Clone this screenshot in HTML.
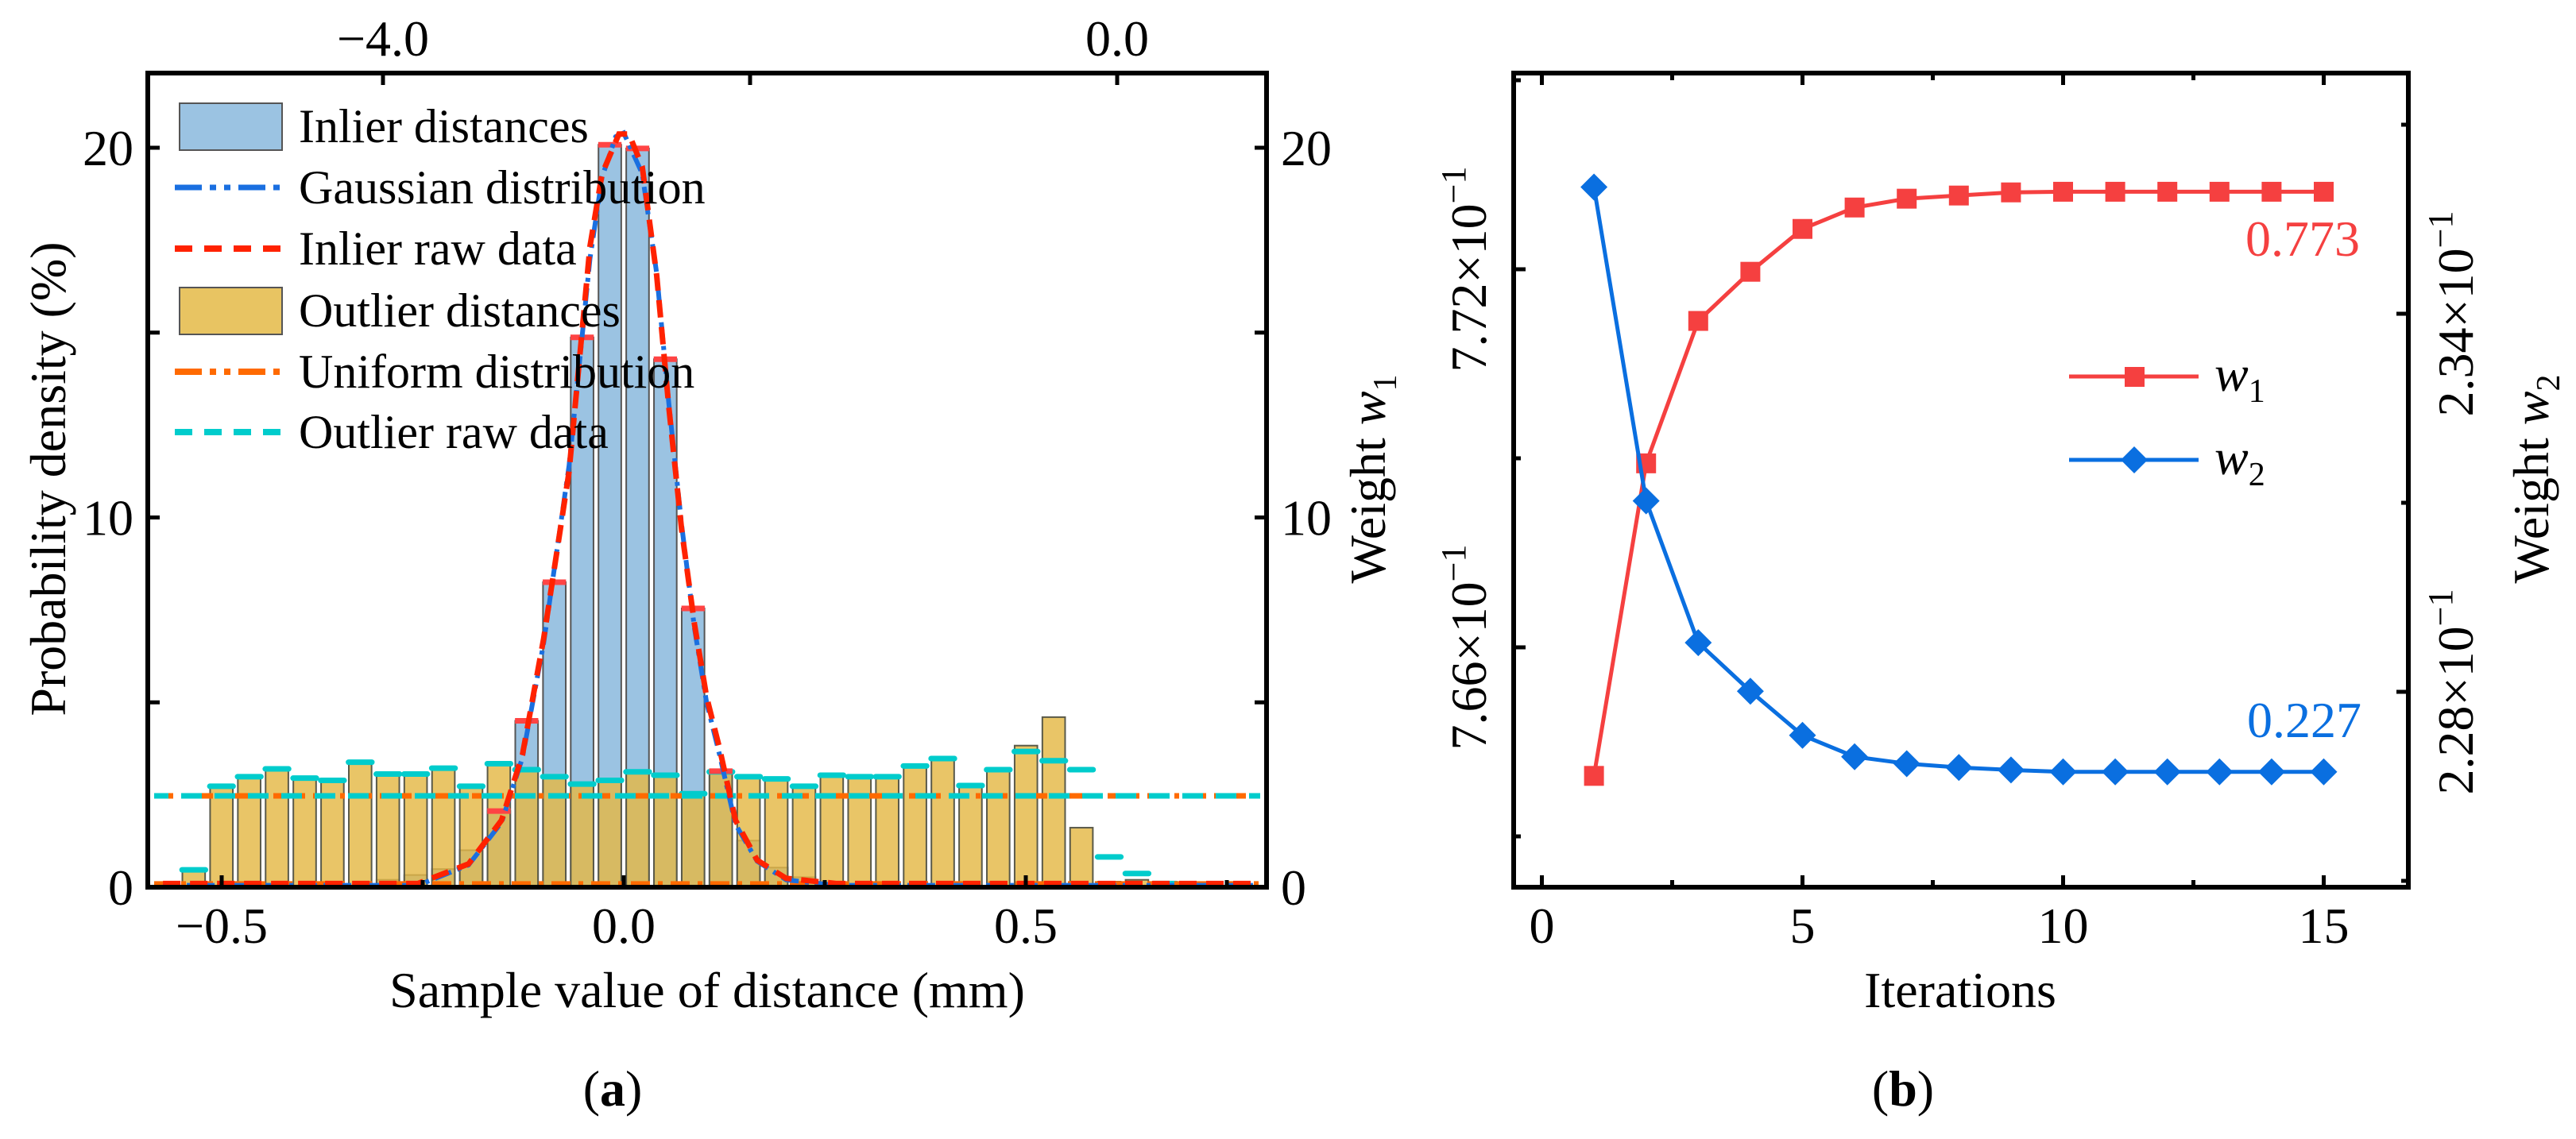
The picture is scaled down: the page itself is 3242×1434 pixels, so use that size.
<!DOCTYPE html>
<html><head><meta charset="utf-8">
<style>
html,body{margin:0;padding:0;background:#fff;}
svg{display:block;font-family:"Liberation Serif","DejaVu Serif",serif;}
</style></head>
<body>
<svg id="fig" width="3242" height="1434" viewBox="0 0 3242 1434" xmlns="http://www.w3.org/2000/svg">
<g id="pa"></g>
<g id="pb"></g>
</svg>
<script>
// ---------- Panel (a) data ----------
const binWidth = 0.0345;
const outlierBins = [-16,-15,-14,-13,-12,-11,-10,-9,-8,-7,-6,-5,-4,-3,-2,-1,0,1,2,3,4,5,6,7,8,9,10,11,12,13,14,15,16,17,18];
const outlierVals = [0.47,2.73,2.99,3.2,2.95,2.89,3.38,3.06,3.06,3.22,2.73,3.34,3.18,2.99,2.79,2.89,3.12,3.03,2.53,3.12,2.99,2.93,2.73,3.03,2.99,2.99,3.28,3.48,2.75,3.18,3.83,4.6,1.61,0.15,0.2];
const outlierRawBins = [-16,-15,-14,-13,-12,-11,-10,-9,-8,-7,-6,-5,-4,-3,-2,-1,0,1,2,3,4,5,6,7,8,9,10,11,12,13,14,15,16,17,18,19];
const outlierRawVals = [0.47,2.73,2.99,3.2,2.95,2.89,3.38,3.06,3.06,3.22,2.73,3.34,3.18,2.99,2.79,2.89,3.12,3.03,2.53,3.12,2.99,2.93,2.73,3.03,2.99,2.99,3.28,3.48,2.75,3.18,3.67,3.42,3.18,0.82,0.37,0.1];
const inlierBins = [-9,-8,-7,-6,-5,-4,-3,-2,-1,0,1,2,3,4,5,6];
const inlierVals = [0.2,0.33,0.49,1.0,2.06,4.5,8.25,14.87,20.08,19.98,14.28,7.54,3.14,1.26,0.53,0.27];
const rawX = [-0.573,-0.256,-0.193,-0.152,-0.126,-0.0996,-0.068,-0.042,-0.027,-0.006,0.0065,0.023,0.041,0.056,0.072,0.088,0.103,0.119,0.139,0.166,0.202,0.264,0.785];
const rawY = [0.1,0.1,0.63,1.81,3.58,6.72,11.24,17.33,19.29,20.37,20.37,19.49,16.54,13.0,9.67,7.11,5.15,3.77,1.81,0.73,0.24,0.1,0.1];
const gaussX = [-0.573,-0.256,-0.193,-0.152,-0.126,-0.0996,-0.068,-0.042,-0.027,-0.010,0.000,0.023,0.041,0.056,0.072,0.088,0.103,0.119,0.139,0.166,0.202,0.264,0.785];
const gaussY = [0.05,0.05,0.6,1.75,3.5,6.6,11.4,17.0,19.2,20.3,20.4,19.3,16.6,13.1,9.8,7.0,5.0,3.6,1.7,0.7,0.2,0.05,0.05];
const uniformLevel = 2.47;
const xTicksA = [-0.5,0.0,0.5];
const xTickLabelsA = ["−0.5","0.0","0.5"];
const yTicksA = [0,10,20];
const topTicks = [-4.0,0.0];
const topTickLabels = ["−4.0","0.0"];

// ---------- Panel (b) data ----------
const iterations = [1,2,3,4,5,6,7,8,9,10,11,12,13,14,15];
const w1 = [0.76396,0.76892,0.77118,0.77196,0.77264,0.77298,0.77312,0.77317,0.77322,0.77323,0.77323,0.77323,0.77323,0.77323,0.77323];
const w2 = [0.23601,0.23103,0.22878,0.22801,0.22731,0.22697,0.22686,0.22680,0.22676,0.22673,0.22673,0.22673,0.22673,0.22673,0.22673];
const xTicksB = [0,5,10,15];
const w1Ticks = [0.766,0.772];
const w1TickLabels = ["7.66","7.72"];
const w2Ticks = [0.228,0.234];
const w2TickLabels = ["2.28","2.34"];

const NS = "http://www.w3.org/2000/svg";
function mk(parent, tag, attrs, text){
  const e = document.createElementNS(NS, tag);
  for (const k in attrs) e.setAttribute(k, attrs[k]);
  if (text !== undefined) e.textContent = text;
  parent.appendChild(e);
  return e;
}

// ===== Panel A =====
const pa = document.getElementById('pa');
const AL=186, AR=1594, AT=92, AB=1117;
const ax = v => 785 + v*1012;
const ay = v => 1117 - v*46.55;
const atop = v => 1406 + v*231;

const gIn = mk(pa,'g',{});


inlierBins.forEach((k,i)=>{
  const c = (k+0.5)*binWidth;
  const x0 = ax(c-binWidth*0.41), x1 = ax(c+binWidth*0.41);
  const r = mk(gIn,'rect',{x:x0,y:ay(inlierVals[i]),width:x1-x0,height:ay(0)-ay(inlierVals[i]),fill:'#9bc3e2',stroke:'#555',"stroke-width":2});
  
  
});
const gOut = mk(pa,'g',{});


outlierBins.forEach((k,i)=>{
  const c = (k+0.5)*binWidth;
  const x0 = ax(c-binWidth*0.41), x1 = ax(c+binWidth*0.41);
  const r = mk(gOut,'rect',{x:x0,y:ay(outlierVals[i]),width:x1-x0,height:ay(0)-ay(outlierVals[i]),fill:'rgba(228,184,70,0.82)',stroke:'#5a5a4a',"stroke-width":2});
  
  
});
outlierRawBins.forEach((k,i)=>{
  const c = (k+0.5)*binWidth;
  const l = mk(pa,'line',{x1:ax(c-binWidth*0.42),x2:ax(c+binWidth*0.42),y1:ay(outlierRawVals[i]),y2:ay(outlierRawVals[i]),stroke:'#00cccc',"stroke-width":7,"stroke-linecap":"round"});
  
  
});
inlierBins.forEach((k,i)=>{
  if (inlierVals[i] < 2) return;
  const c = (k+0.5)*binWidth;
  const l = mk(pa,'line',{x1:ax(c-binWidth*0.42),x2:ax(c+binWidth*0.42),y1:ay(inlierVals[i]),y2:ay(inlierVals[i]),stroke:'#f44',"stroke-width":7});
  
  
});
const uni = mk(pa,'line',{x1:AL+8,x2:AR-8,y1:ay(uniformLevel),y2:ay(uniformLevel),stroke:'#ff6a00',"stroke-width":7,"stroke-dasharray":"24 10 6 10"});


const cy = mk(pa,'line',{x1:AL+8,x2:AR-8,y1:ay(uniformLevel),y2:ay(uniformLevel),stroke:'#00cccc',"stroke-width":7,"stroke-dasharray":"26 16","stroke-dashoffset":"8"});


const base = mk(pa,'line',{x1:AL+8,x2:AR-8,y1:ay(0.1),y2:ay(0.1),stroke:'#ff6a00',"stroke-width":6,"stroke-dasharray":"24 10 6 10"});


let d='';
gaussX.forEach((v,i)=>{ d += (i?'L':'M')+ax(v)+' '+ay(gaussY[i]); });
const gl = mk(pa,'path',{d:d,fill:'none',stroke:'#1a6fe0',"stroke-width":6,"stroke-dasharray":"22 8 5 8"});


d='';
rawX.forEach((v,i)=>{ d += (i?'L':'M')+ax(v)+' '+ay(rawY[i]); });
const rl = mk(pa,'path',{d:d,fill:'none',stroke:'#f20',"stroke-width":7,"stroke-dasharray":"22 12"});



const fa = mk(pa,'rect',{x:AL,y:AT,width:AR-AL,height:AB-AT,fill:'none',stroke:'#000',"stroke-width":6});


[-0.5,-0.25,0,0.25,0.5,0.75].forEach(v=>{
  const major = xTicksA.includes(v);
  mk(pa,'line',{x1:ax(v),x2:ax(v),y1:AB,y2:AB-(major?15:9),stroke:'#000',"stroke-width":5});
});
xTicksA.forEach((v,i)=>{
  const t = mk(pa,'text',{x:ax(v),y:1187,"font-size":64,"text-anchor":"middle"},xTickLabelsA[i]);
  
  
});
[-4,-2,0].forEach(v=>{ mk(pa,'line',{x1:atop(v),x2:atop(v),y1:AT,y2:AT+15,stroke:'#000',"stroke-width":5}); });
topTicks.forEach((v,i)=>{
  const t = mk(pa,'text',{x:atop(v),y:70,"font-size":64,"text-anchor":"middle"},topTickLabels[i]);
  
  
});
[0,5,10,15,20].forEach(v=>{
  mk(pa,'line',{x1:AL,x2:AL+15,y1:ay(v),y2:ay(v),stroke:'#000',"stroke-width":5});
  mk(pa,'line',{x1:AR,x2:AR-15,y1:ay(v),y2:ay(v),stroke:'#000',"stroke-width":5});
});
yTicksA.forEach(v=>{
  const t = mk(pa,'text',{x:168,y:ay(v)+22,"font-size":64,"text-anchor":"end"},String(v));
  
  
  const t2 = mk(pa,'text',{x:1612,y:ay(v)+22,"font-size":64,"text-anchor":"start"},String(v));
  
  
});
let t = mk(pa,'text',{x:0,y:0,"font-size":64,"text-anchor":"middle",transform:"translate(82,603) rotate(-90)"},"Probability density (%)");


t = mk(pa,'text',{x:0,y:0,"font-size":64,"text-anchor":"middle",transform:"translate(1743,603) rotate(-90)"});


t.innerHTML = 'Weight <tspan font-style="italic">w</tspan><tspan font-size="42" dy="14">1</tspan>';
t = mk(pa,'text',{x:890,y:1268,"font-size":64,"text-anchor":"middle"},"Sample value of distance (mm)");


t = mk(pa,'text',{x:771,y:1392,"font-size":64,"text-anchor":"middle"});


t.innerHTML = '(<tspan font-weight="bold">a</tspan>)';
const legY = [159,236,313,391,468,544];
const legLabels = ["Inlier distances","Gaussian distribution","Inlier raw data","Outlier distances","Uniform distribution","Outlier raw data"];
const lg = mk(pa,'g',{});


let r = mk(lg,'rect',{x:226,y:130,width:129,height:59,fill:'#9bc3e2',stroke:'#555',"stroke-width":2});
 
r = mk(lg,'rect',{x:226,y:362,width:129,height:59,fill:'#e8c462',stroke:'#555',"stroke-width":2});
 
mk(lg,'line',{x1:220,x2:362,y1:legY[1],y2:legY[1],stroke:'#1a6fe0',"stroke-width":7,"stroke-dasharray":"34 10 8 10 8 10"});
mk(lg,'line',{x1:220,x2:360,y1:legY[2],y2:legY[2],stroke:'#f20',"stroke-width":8,"stroke-dasharray":"22 15"});
mk(lg,'line',{x1:220,x2:362,y1:legY[4],y2:legY[4],stroke:'#ff6a00',"stroke-width":8,"stroke-dasharray":"34 10 8 10 8 10"});
mk(lg,'line',{x1:220,x2:360,y1:legY[5],y2:legY[5],stroke:'#00cccc',"stroke-width":8,"stroke-dasharray":"22 15"});
legLabels.forEach((s,i)=>{
  const tt = mk(lg,'text',{x:376,y:legY[i]+20,"font-size":60},s);
  
  
});

// ===== Panel B =====
const pb = document.getElementById('pb');
const BL=1905, BR=3031, BT=92, BB=1117;
const bx = v => 1940.5 + v*65.6;
const by1 = v => 339 + (0.772 - v)/0.006*476;
const by2 = v => 395 + (0.234 - v)/0.006*476;
const fb = mk(pb,'rect',{x:BL,y:BT,width:BR-BL,height:BB-BT,fill:'none',stroke:'#000',"stroke-width":6});


[0,2.5,5,7.5,10,12.5,15].forEach(v=>{
  const major = xTicksB.includes(v);
  mk(pb,'line',{x1:bx(v),x2:bx(v),y1:BB,y2:BB-(major?15:9),stroke:'#000',"stroke-width":5});
  mk(pb,'line',{x1:bx(v),x2:bx(v),y1:BT,y2:BT+(major?15:9),stroke:'#000',"stroke-width":5});
});
xTicksB.forEach(v=>{
  const tt = mk(pb,'text',{x:bx(v),y:1187,"font-size":64,"text-anchor":"middle"},String(v));
  
  
});
[0.763,0.766,0.769,0.772,0.775].forEach(v=>{
  const y = by1(v); if (y<BT+5||y>BB-5) return;
  const major = w1Ticks.some(m=>Math.abs(m-v)<1e-6);
  mk(pb,'line',{x1:BL,x2:BL+(major?15:9),y1:y,y2:y,stroke:'#000',"stroke-width":5});
});
[0.225,0.228,0.231,0.234,0.237].forEach(v=>{
  const y = by2(v); if (y<BT+5||y>BB-5) return;
  const major = w2Ticks.some(m=>Math.abs(m-v)<1e-6);
  mk(pb,'line',{x1:BR,x2:BR-(major?15:9),y1:y,y2:y,stroke:'#000',"stroke-width":5});
});
w1Ticks.forEach((v,i)=>{
  const tt = mk(pb,'text',{x:0,y:0,"font-size":64,"text-anchor":"middle",transform:`translate(1870,${by1(v)}) rotate(-90)`});
  
  
  tt.innerHTML = w1TickLabels[i]+'×10<tspan font-size="44" dy="-26">−1</tspan>';
});
w2Ticks.forEach((v,i)=>{
  const tt = mk(pb,'text',{x:0,y:0,"font-size":64,"text-anchor":"middle",transform:`translate(3112,${by2(v)}) rotate(-90)`});
  
  
  tt.innerHTML = w2TickLabels[i]+'×10<tspan font-size="44" dy="-26">−1</tspan>';
});
t = mk(pb,'text',{x:0,y:0,"font-size":64,"text-anchor":"middle",transform:"translate(3207,603) rotate(-90)"});


t.innerHTML = 'Weight <tspan font-style="italic">w</tspan><tspan font-size="42" dy="14">2</tspan>';
t = mk(pb,'text',{x:2467,y:1268,"font-size":64,"text-anchor":"middle"},"Iterations");


t = mk(pb,'text',{x:2395,y:1392,"font-size":64,"text-anchor":"middle"});


t.innerHTML = '(<tspan font-weight="bold">b</tspan>)';
function series(vals, yf, color, name, marker){
  const g = mk(pb,'g',{});
  
  
  let dd='';
  iterations.forEach((it,i)=>{ dd += (i?'L':'M')+bx(it)+' '+yf(vals[i]); });
  mk(g,'path',{d:dd,fill:'none',stroke:color,"stroke-width":5});
  iterations.forEach((it,i)=>{
    const x=bx(it), y=yf(vals[i]);
    let m;
    if (marker==='sq') m = mk(g,'rect',{x:x-12.5,y:y-12.5,width:25,height:25,fill:color});
    else m = mk(g,'polygon',{points:`${x},${y-17} ${x+17},${y} ${x},${y+17} ${x-17},${y}`,fill:color});
    
    
  });
}
series(w1, by1, '#f54040', 'w1-series', 'sq');
series(w2, by2, '#0a6fe0', 'w2-series', 'dia');
t = mk(pb,'text',{x:2970,y:322,"font-size":64,"text-anchor":"end",fill:'#f54040'},"0.773");


t = mk(pb,'text',{x:2972,y:928,"font-size":64,"text-anchor":"end",fill:'#0a6fe0'},"0.227");


const lb = mk(pb,'g',{});


mk(lb,'line',{x1:2604,x2:2767,y1:474,y2:474,stroke:'#f54040',"stroke-width":5});
mk(lb,'rect',{x:2674,y:462,width:25,height:25,fill:'#f54040'});
mk(lb,'line',{x1:2604,x2:2767,y1:579,y2:579,stroke:'#0a6fe0',"stroke-width":5});
mk(lb,'polygon',{points:"2686,562 2703,579 2686,596 2669,579",fill:'#0a6fe0'});
t = mk(lb,'text',{x:2787,y:492,"font-size":64});


t.innerHTML = '<tspan font-style="italic">w</tspan><tspan font-size="42" dy="14">1</tspan>';
t = mk(lb,'text',{x:2787,y:597,"font-size":64});


t.innerHTML = '<tspan font-style="italic">w</tspan><tspan font-size="42" dy="14">2</tspan>';
</script>
</body></html>
